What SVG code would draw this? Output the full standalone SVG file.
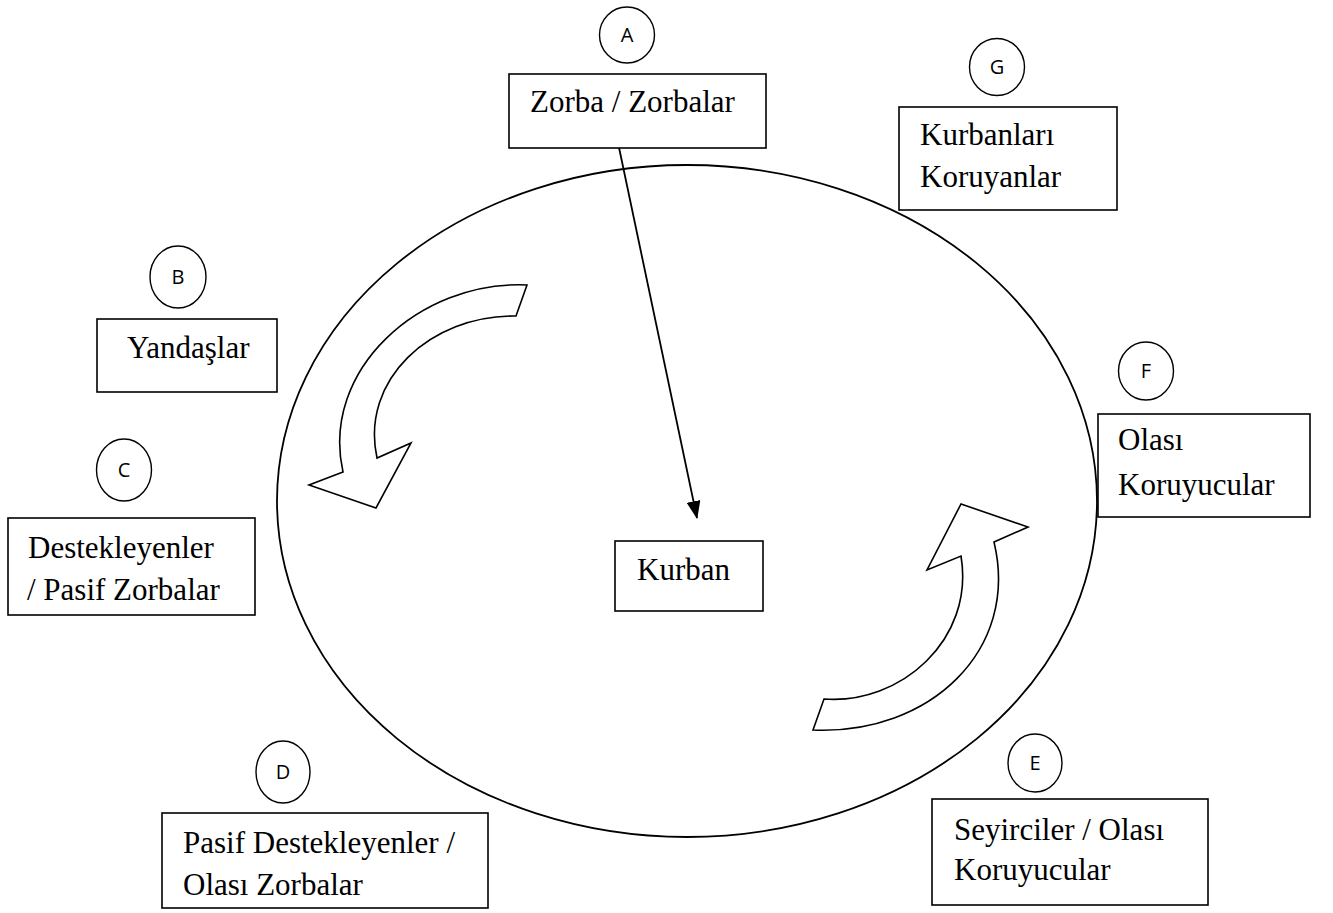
<svg xmlns="http://www.w3.org/2000/svg" width="1333" height="913" viewBox="0 0 1333 913">
<defs>
<style>
.bx{fill:#fff;stroke:#000;stroke-width:1.6}
.cr{fill:#fff;stroke:#000;stroke-width:1.4}
.t{font-family:"Liberation Serif","Times New Roman",serif;font-size:31px;fill:#000}
.l{font-family:"Open Sans","Liberation Sans",Arial,sans-serif;font-size:20px;fill:#000;text-anchor:middle}
.ca{fill:#fff;stroke:#000;stroke-width:1.6;stroke-linejoin:miter}
</style>
<marker id="ah" markerWidth="18" markerHeight="14" refX="17" refY="7" orient="auto" markerUnits="userSpaceOnUse" viewBox="0 0 18 14">
<path d="M0,0 L18,7 L0,14 Z" fill="#000"/>
</marker>
</defs>
<rect width="1333" height="913" fill="#fff"/>
<g id="cycle">
<ellipse cx="687" cy="501" rx="410" ry="336" fill="none" stroke="#000" stroke-width="1.8"/>
<path class="ca" d="M527,285 C420,280 320,370 343,472 L309,485 L376,508 L411,443 L377,458 C360,380 430,315 516,316 Z"/>
<path class="ca" d="M813,730 L824,699 C900,705 975,640 961,556 L927,570 L961,504 L1028,527 L994,542 C1020,650 930,735 813,730 Z"/>
</g>
<g id="connectors">
<line x1="617" y1="138" x2="697" y2="518" stroke="#000" stroke-width="1.8" marker-end="url(#ah)"/>
</g>
<g id="node-A">
<ellipse class="cr" cx="627" cy="35" rx="27.5" ry="28"/>
<text class="l" x="627" y="42">A</text>
<rect class="bx" x="509" y="74" width="257" height="74"/>
<text class="t" x="530" y="112">Zorba / Zorbalar</text>
</g>
<g id="node-G">
<ellipse class="cr" cx="997" cy="67" rx="27.5" ry="28.5"/>
<text class="l" x="997" y="74">G</text>
<rect class="bx" x="899" y="107" width="218" height="103"/>
<text class="t" x="920" y="145">Kurbanları</text>
<text class="t" x="920" y="187">Koruyanlar</text>
</g>
<g id="node-B">
<ellipse class="cr" cx="178" cy="277" rx="28" ry="31"/>
<text class="l" x="178" y="284">B</text>
<rect class="bx" x="97" y="319" width="180" height="73"/>
<text class="t" x="127" y="358">Yandaşlar</text>
</g>
<g id="node-C">
<ellipse class="cr" cx="124" cy="470" rx="27.5" ry="31"/>
<text class="l" x="124" y="477">C</text>
<rect class="bx" x="8" y="518" width="247" height="97"/>
<text class="t" x="28" y="558">Destekleyenler</text>
<text class="t" x="27" y="600">/ Pasif Zorbalar</text>
</g>
<g id="node-D">
<ellipse class="cr" cx="283" cy="772" rx="27" ry="31"/>
<text class="l" x="283" y="779">D</text>
<rect class="bx" x="162" y="813" width="326" height="95"/>
<text class="t" x="183" y="853">Pasif Destekleyenler /</text>
<text class="t" x="183" y="895">Olası Zorbalar</text>
</g>
<g id="node-E">
<ellipse class="cr" cx="1035" cy="763" rx="27" ry="29"/>
<text class="l" x="1035" y="770">E</text>
<rect class="bx" x="932" y="799" width="276" height="106"/>
<text class="t" x="954" y="840">Seyirciler / Olası</text>
<text class="t" x="954" y="880">Koruyucular</text>
</g>
<g id="node-F">
<ellipse class="cr" cx="1146" cy="371" rx="27.5" ry="29"/>
<text class="l" x="1146" y="378">F</text>
<rect class="bx" x="1098" y="414" width="212" height="103"/>
<text class="t" x="1118" y="450">Olası</text>
<text class="t" x="1118" y="495">Koruyucular</text>
</g>
<g id="node-Kurban">
<rect class="bx" x="615" y="541" width="148" height="70"/>
<text class="t" x="637" y="580">Kurban</text>
</g>
</svg>
